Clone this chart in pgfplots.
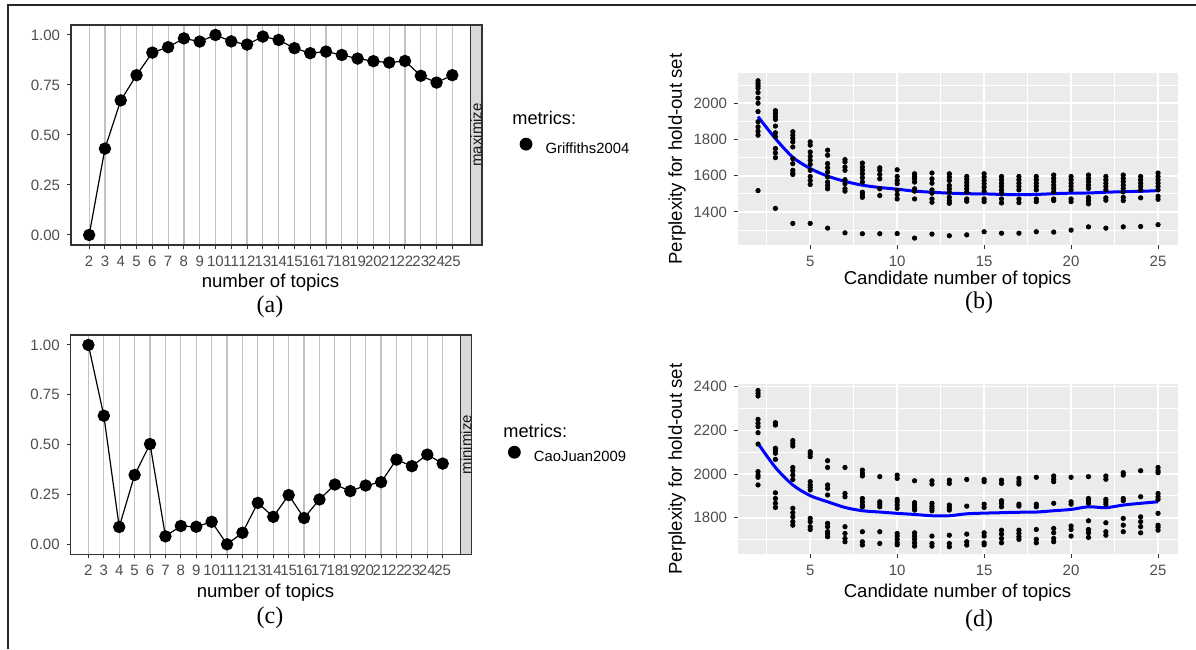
\documentclass[border=0pt]{standalone}
\usepackage{fontspec}
\setmainfont{Liberation Sans}
\newfontfamily\capfont{Liberation Serif}
\usepackage{pgfplots}
\pgfplotsset{compat=1.18}

\definecolor{g10}{HTML}{1A1A1A}
\definecolor{g20}{HTML}{333333}
\definecolor{g30}{HTML}{4D4D4D}
\definecolor{g85}{HTML}{D9D9D9}
\definecolor{g92}{HTML}{EBEBEB}
\definecolor{vgrid}{HTML}{C2C2C2}

\newcommand\ticksize{\fontsize{7.5bp}{9bp}\selectfont}
\newcommand\labsize{\fontsize{9.3bp}{11bp}\selectfont}

\pgfplotsset{
  base/.style={scale only axis, anchor=south west,
    tick label style={font=\ticksize, text=g30},
    /pgf/number format/assume math mode=true,
    tick align=outside, major tick length=2bp,
    tick style={g20, line width=0.5bp}},
  topics/.style={base, xmin=0.85, xmax=26.15, ymin=-0.05, ymax=1.05,
    xtick={2,...,25}, ytick={0,0.25,0.5,0.75,1},
    yticklabel style={/pgf/number format/fixed, /pgf/number format/fixed zerofill,
      /pgf/number format/precision=2},
    xtick pos=bottom, ytick pos=left,
    xmajorgrids, major grid style={vgrid, line width=0.6bp},
    axis line style={g20, line width=0.55bp},
    legend style={draw=none, fill=none, inner sep=0pt, nodes={inner sep=0pt},
      column sep=6.6bp, font=\fontsize{7.4bp}{9bp}\selectfont, anchor=west},
    legend image code/.code={\fill[black] (0bp,2.6bp) circle (2.9bp);}},
  perp/.style={base, xmin=0.85, xmax=26.15,
    xtick={5,10,...,25}, minor xtick={2.5,7.5,...,22.5},
    axis background/.style={fill=g92},
    grid=both, major grid style={white, line width=0.8bp},
    minor grid style={white, line width=0.4bp},
    axis x line*=bottom, axis y line*=left, axis line style={draw=none},
    minor tick length=0pt,
    /pgf/number format/1000 sep={}, scaled y ticks=false},
  dots/.style={only marks, mark=*, mark size=1.1bp, black},
  fit/.style={smooth, no marks, blue, line width=1.5bp}
}

\begin{document}
\begin{tikzpicture}[x=0.5bp, y=0.5bp]
\useasboundingbox (0,0) rectangle (1196,649);

% (a) Griffiths2004
\begin{axis}[topics, at={(35.5bp,202bp)}, width=199.75bp, height=110bp,
    legend style={at={(axis description cs:1.122,0.4455)}}]
  \addplot[black, line width=0.6bp, mark=*, mark size=2.8bp] coordinates {
    (2,0.000)(3,0.432)(4,0.673)(5,0.799)(6,0.912)(7,0.939)(8,0.983)(9,0.967)
    (10,1.000)(11,0.968)(12,0.952)(13,0.992)(14,0.975)(15,0.934)(16,0.909)
    (17,0.917)(18,0.900)(19,0.882)(20,0.869)(21,0.862)(22,0.870)(23,0.796)
    (24,0.762)(25,0.799)};
  \addlegendentry{Griffiths2004}
\end{axis}

% (c) CaoJuan2009
\begin{axis}[topics, at={(35.35bp,47.35bp)}, width=194.85bp, height=109.65bp,
    legend style={at={(axis description cs:1.121,0.453)}}]
  \addplot[black, line width=0.6bp, mark=*, mark size=2.8bp] coordinates {
    (2,1.000)(3,0.645)(4,0.087)(5,0.348)(6,0.503)(7,0.040)(8,0.092)(9,0.088)
    (10,0.113)(11,0.000)(12,0.058)(13,0.208)(14,0.138)(15,0.247)(16,0.132)
    (17,0.225)(18,0.300)(19,0.267)(20,0.295)(21,0.312)(22,0.425)(23,0.392)
    (24,0.450)(25,0.405)};
  \addlegendentry{CaoJuan2009}
\end{axis}

% (b) perplexity
\begin{axis}[perp, at={(369bp,202bp)}, width=220bp, height=86bp,
    ymin=1218, ymax=2167, ytick={1400,1600,1800,2000},
    minor ytick={1300,1500,1700,1900,2100}]
  \addplot[dots] coordinates {
    (2,2124)(2,2110)(2,2096)(2,2083)(2,2059)(2,2028)(2,2000)(2,1954)(2,1898)(2,1870)(2,1845)(2,1824)(2,1518)
    (3,1959)(3,1944)(3,1927)(3,1911)(3,1874)(3,1837)(3,1815)(3,1750)(3,1726)(3,1700)(3,1420)
    (4,1843)(4,1824)(4,1806)(4,1787)(4,1759)(4,1694)(4,1667)(4,1630)(4,1615)(4,1607)(4,1337)
    (5,1787)(5,1769)(5,1731)(5,1707)(5,1685)(5,1663)(5,1630)(5,1596)(5,1574)(5,1552)(5,1337)
    (6,1741)(6,1713)(6,1667)(6,1644)(6,1620)(6,1593)(6,1565)(6,1546)(6,1528)(6,1311)
    (7,1689)(7,1676)(7,1648)(7,1630)(7,1578)(7,1556)(7,1528)(7,1515)(7,1285)
    (8,1670)(8,1648)(8,1630)(8,1611)(8,1589)(8,1565)(8,1509)(8,1496)(8,1481)(8,1280)
    (9,1644)(9,1630)(9,1607)(9,1583)(9,1528)(9,1491)(9,1280)
    (10,1633)(10,1596)(10,1574)(10,1556)(10,1519)(10,1496)(10,1472)(10,1281)
    (11,1611)(11,1596)(11,1583)(11,1565)(11,1528)(11,1515)(11,1472)(11,1256)
    (12,1615)(12,1583)(12,1559)(12,1522)(12,1504)(12,1472)(12,1454)(12,1278)
    (13,1611)(13,1593)(13,1574)(13,1546)(13,1528)(13,1509)(13,1481)(13,1463)(13,1448)(13,1269)
    (14,1596)(14,1580)(14,1563)(14,1546)(14,1528)(14,1510)(14,1472)(14,1459)(14,1274)
    (15,1611)(15,1593)(15,1574)(15,1556)(15,1537)(15,1515)(15,1472)(15,1457)(15,1291)
    (16,1596)(16,1578)(16,1559)(16,1541)(16,1522)(16,1504)(16,1472)(16,1450)(16,1283)
    (17,1596)(17,1578)(17,1559)(17,1541)(17,1522)(17,1472)(17,1452)(17,1283)
    (18,1596)(18,1578)(18,1559)(18,1541)(18,1522)(18,1472)(18,1457)(18,1291)
    (19,1604)(19,1585)(19,1567)(19,1548)(19,1530)(19,1511)(19,1472)(19,1463)(19,1289)
    (20,1596)(20,1578)(20,1559)(20,1541)(20,1522)(20,1472)(20,1457)(20,1300)
    (21,1604)(21,1585)(21,1567)(21,1548)(21,1530)(21,1480)(21,1463)(21,1445)(21,1318)
    (22,1596)(22,1578)(22,1559)(22,1541)(22,1522)(22,1478)(22,1465)(22,1311)
    (23,1604)(23,1585)(23,1567)(23,1548)(23,1530)(23,1511)(23,1481)(23,1463)(23,1318)
    (24,1596)(24,1578)(24,1559)(24,1541)(24,1522)(24,1478)(24,1320)
    (25,1615)(25,1596)(25,1578)(25,1559)(25,1541)(25,1522)(25,1487)(25,1470)(25,1330)};
  \addplot[fit] coordinates {
    (2,1926)(3,1805)(4,1702)(5,1640)(6,1598)(7,1569)(8,1548)(9,1535)(10,1526)
    (11,1515)(12,1509)(13,1504)(14,1501)(15,1500)(16,1497)(17,1496)(18,1497)
    (19,1501)(20,1504)(21,1505)(22,1509)(23,1512)(24,1514)(25,1518)};
\end{axis}

% (d) perplexity
\begin{axis}[perp, at={(369bp,47.5bp)}, width=220bp, height=85bp,
    ymin=1634, ymax=2412, ytick={1800,2000,2200,2400},
    minor ytick={1700,1900,2100,2300}]
  \addplot[dots] coordinates {
    (2,2382)(2,2369)(2,2357)(2,2250)(2,2232)(2,2217)(2,2189)(2,2137)(2,2011)(2,1995)(2,1985)(2,1950)
    (3,2235)(3,2224)(3,2118)(3,2107)(3,2095)(3,2067)(3,1914)(3,1888)(3,1866)(3,1847)
    (4,2153)(4,2140)(4,2128)(4,2030)(4,2015)(4,1995)(4,1975)(4,1843)(4,1823)(4,1804)(4,1782)(4,1766)
    (5,2102)(5,2092)(5,2079)(5,1965)(5,1950)(5,1939)(5,1927)(5,1797)(5,1782)(5,1759)(5,1746)
    (6,2061)(6,2030)(6,1950)(6,1934)(6,1904)(6,1774)(6,1759)(6,1736)(6,1725)(6,1713)
    (7,2030)(7,1911)(7,1896)(7,1759)(7,1728)(7,1705)(7,1690)
    (8,2018)(8,2003)(8,1991)(8,1888)(8,1873)(8,1858)(8,1850)(8,1736)(8,1690)(8,1675)
    (9,1988)(9,1873)(9,1862)(9,1850)(9,1736)(9,1682)
    (10,1995)(10,1980)(10,1884)(10,1873)(10,1858)(10,1843)(10,1728)(10,1716)(10,1701)(10,1685)(10,1676)
    (11,1969)(11,1869)(11,1858)(11,1846)(11,1835)(11,1731)(11,1716)(11,1701)(11,1685)(11,1670)
    (12,1969)(12,1954)(12,1866)(12,1853)(12,1843)(12,1832)(12,1716)(12,1682)(12,1670)
    (13,1972)(13,1957)(13,1858)(13,1847)(13,1835)(13,1720)(13,1682)(13,1667)
    (14,1975)(14,1853)(14,1725)(14,1690)(14,1675)
    (15,1975)(15,1965)(15,1862)(15,1847)(15,1731)(15,1716)(15,1685)(15,1676)
    (16,1972)(16,1957)(16,1878)(16,1866)(16,1850)(16,1743)(16,1725)(16,1705)(16,1685)
    (17,1980)(17,1965)(17,1954)(17,1862)(17,1853)(17,1743)(17,1728)(17,1713)(17,1701)
    (18,1985)(18,1862)(18,1850)(18,1746)(18,1701)(18,1685)
    (19,1991)(19,1976)(19,1965)(19,1866)(19,1751)(19,1731)(19,1705)(19,1690)
    (20,1985)(20,1873)(20,1862)(20,1762)(20,1746)(20,1716)
    (21,1988)(21,1888)(21,1878)(21,1866)(21,1786)(21,1746)(21,1731)(21,1710)
    (22,1991)(22,1976)(22,1884)(22,1873)(22,1862)(22,1777)(22,1736)(22,1720)
    (23,2006)(23,1995)(23,1888)(23,1878)(23,1797)(23,1766)(23,1736)
    (24,2015)(24,1896)(24,1804)(24,1782)(24,1759)(24,1731)
    (25,2030)(25,2015)(25,2006)(25,1911)(25,1896)(25,1884)(25,1820)(25,1766)(25,1756)(25,1743)};
  \addplot[fit] coordinates {
    (2,2140)(3,2030)(4,1950)(5,1901)(6,1873)(7,1847)(8,1832)(9,1826)(10,1820)
    (11,1815)(12,1809)(13,1809)(14,1818)(15,1821)(16,1823)(17,1825)(18,1826)
    (19,1832)(20,1838)(21,1850)(22,1846)(23,1858)(24,1866)(25,1873)};
\end{axis}

% facet strips
\draw[g20, fill=g85, line width=0.55bp] (470.5,404) rectangle (482,624);
\node[rotate=90, font=\ticksize, text=g10] at (476.2,514) {maximize};
\draw[g20, fill=g85, line width=0.55bp] (460.4,94.7) rectangle (471.5,314);
\node[rotate=90, font=\ticksize, text=g10] at (466,204.4) {minimize};

% legend titles
\node[anchor=west, inner sep=0pt, font=\fontsize{9.1bp}{11bp}\selectfont] at (512,531) {metrics:};
\node[anchor=west, inner sep=0pt, font=\fontsize{9.1bp}{11bp}\selectfont] at (503,218) {metrics:};

% axis titles
\node[font=\labsize] at (270.5,366) {number of topics};
\node[font=\labsize] at (265.5,56) {number of topics};
\node[font=\labsize] at (957.5,369) {Candidate number of topics};
\node[font=\labsize] at (957.5,56) {Candidate number of topics};
\node[font=\labsize, rotate=90] at (677,490) {Perplexity for hold-out set};
\node[font=\labsize, rotate=90] at (677,180) {Perplexity for hold-out set};

% captions
\node[font=\capfont\fontsize{12bp}{14bp}\selectfont] at (270,342) {(a)};
\node[font=\capfont\fontsize{12bp}{14bp}\selectfont] at (270,31) {(c)};
\node[font=\capfont\fontsize{12bp}{14bp}\selectfont] at (979,346) {(b)};
\node[font=\capfont\fontsize{12bp}{14bp}\selectfont] at (979,28) {(d)};

% frame
\draw[black!85, line width=1bp] (7.5,0) -- (7.5,643.5) -- (1196,643.5);
\end{tikzpicture}
\end{document}
